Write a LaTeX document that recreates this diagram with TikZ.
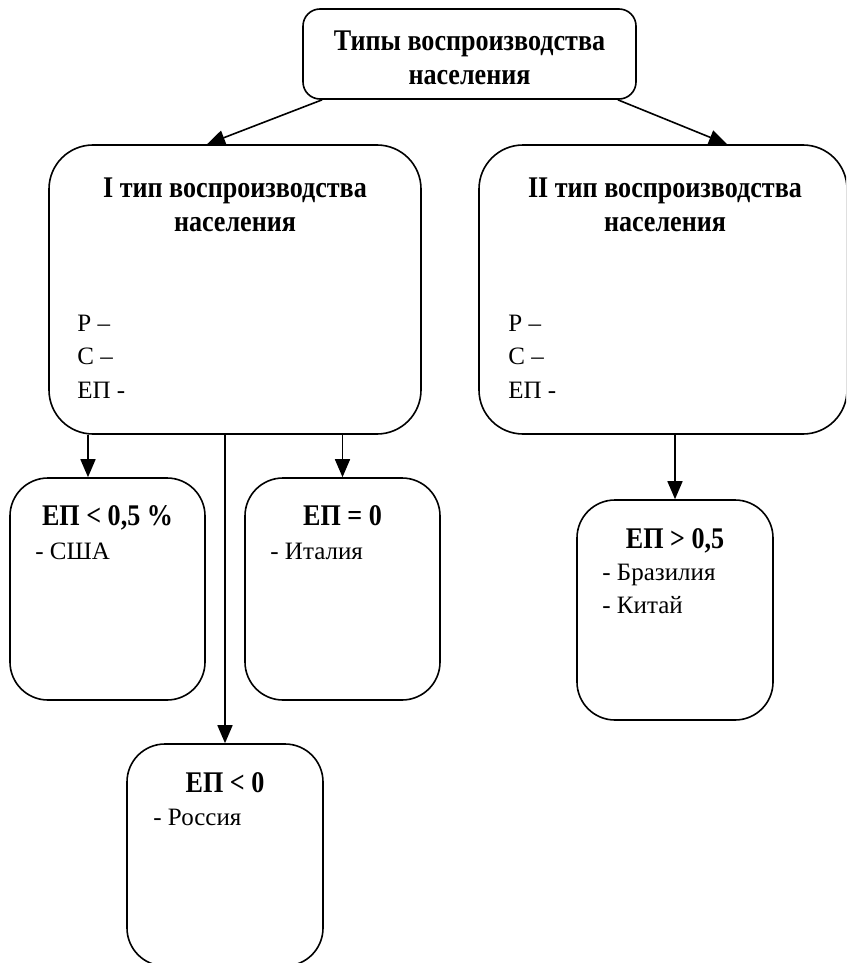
\documentclass[tikz,border=0pt]{standalone}
\usepackage{fontspec}
\setmainfont{Liberation Serif}[BoldFeatures={FakeStretch=0.87}]
\usepackage{tikz}
\usetikzlibrary{arrows.meta}

\begin{document}
\begin{tikzpicture}[x=0.5pt,y=-0.5pt,
    rbox/.style={draw, line width=0.8pt, rounded corners=#1, inner sep=0pt},
    head/.style={font=\bfseries\fontsize{15}{17}\selectfont, align=center, inner sep=0pt, anchor=north},
    body/.style={font=\fontsize{12.5}{16.75}\selectfont, align=left, inner sep=0pt, anchor=north west},
    arr/.style={-{Triangle[length=9pt,width=7.5pt]}, line width=0.8pt}]
            \useasboundingbox (0,0) rectangle (846,963);
            \clip (0,0) rectangle (846,963);
            % boxes
            \node[rbox=8.5pt, minimum width=166.5pt, minimum height=45pt] (top) at (469.5,54) {};
            \node[rbox=22pt, minimum width=186pt, minimum height=144.5pt] (I) at (235,289.5) {};
            \node[rbox=22pt, minimum width=184pt, minimum height=144.5pt] (II) at (663,289.5) {};
            \node[rbox=19pt, minimum width=97.5pt, minimum height=111pt] (a) at (107.5,589) {};
            \node[rbox=19pt, minimum width=97.5pt, minimum height=111pt] (b) at (342.5,589) {};
            \node[rbox=19pt, minimum width=98pt, minimum height=111pt] (c) at (225,855) {};
            \node[rbox=19pt, minimum width=98pt, minimum height=110pt] (d) at (675,610) {};
            % texts
            \node[head] (topT) at (469.5,30) {Типы воспроизводства\\населения};
            \node[head] (IT) at (235,177) {I тип воспроизводства\\населения};
            \node[body] (IB) at (77,314.5) {Р –\\С –\\ЕП -};
            \node[head] (IIT) at (665,177) {II тип воспроизводства\\населения};
            \node[body] (IIB) at (508,314.5) {Р –\\С –\\ЕП -};
            \node[head] (aT) at (107.5,505) {ЕП < 0,5 \%};
            \node[body] (aB) at (35,542.5) {- США};
            \node[head] (bT) at (342.5,505) {ЕП = 0};
            \node[body] (bB) at (270,542.5) {- Италия};
            \node[head] (cT) at (225,772) {ЕП < 0};
            \node[body] (cB) at (153,808.5) {- Россия};
            \node[head] (dT) at (675,528) {ЕП > 0,5};
            \node[body] (dB) at (602,563.5) {- Бразилия\\- Китай};
            % arrows
            \draw[arr] ([xshift=10pt]top.south west) -- ([xshift=-14pt]I.north);
            \draw[arr] ([xshift=-9.5pt]top.south east) -- ([xshift=32pt]II.north);
            \coordinate (aTop) at ([xshift=-9.75pt]a.north);
            \draw[arr] (aTop |- I.south) -- (aTop);
            \draw[arr] (b.north |- I.south) -- (b.north);
            \draw[arr] (c.north |- I.south) -- (c.north);
            \draw[arr] (d.north |- II.south) -- (d.north);
        \end{tikzpicture}
\end{document}
